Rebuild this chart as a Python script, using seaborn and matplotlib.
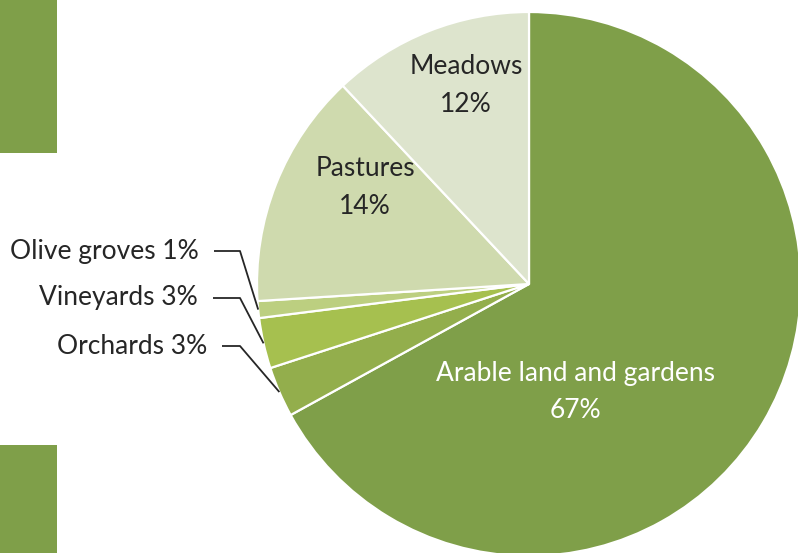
import numpy as np
import matplotlib
matplotlib.use("Agg")
import matplotlib.pyplot as plt
from matplotlib.patches import Rectangle
import seaborn as sns

# Land use shares (clockwise from 12 o'clock)
categories = ["Arable land and gardens", "Orchards", "Vineyards", "Olive groves", "Pastures", "Meadows"]
shares = [67, 3, 3, 1, 14, 12]
slice_colors = ["#7f9f49", "#93ae4c", "#a6c04f", "#bccf80", "#cfdaae", "#dde4cd"]

sns.set_theme(style="white")
plt.rcParams["font.family"] = ["Lato", "DejaVu Sans"]
palette = sns.color_palette(slice_colors)

W, H = 798, 553
fig = plt.figure(figsize=(W / 100, H / 100), dpi=100)
ax = fig.add_axes([0, 0, 1, 1])

cx, cy, r = 529, H - 284, 272
wedges, _ = ax.pie(
    shares, colors=palette, startangle=90, counterclock=False,
    radius=r, center=(cx, cy),
    wedgeprops=dict(edgecolor="white", linewidth=1.6),
)

# Decorative side blocks
for y0, y1 in [(0, 153), (445, 553)]:
    ax.add_patch(Rectangle((0, H - y1), 57, y1 - y0, color="#7f9f49", lw=0, zorder=0))

fs = 19
dark = "#262626"

# Inside labels: (x, y of first line) in pixel space
inside = {
    "Arable land and gardens": (575, 373, "white"),
    "Pastures": (365, 169, dark),
    "Meadows": (466, 67, dark),
}
for name, (x, y, col) in inside.items():
    v = shares[categories.index(name)]
    ax.text(x, H - y, name, ha="center", va="center", fontsize=fs, color=col)
    ax.text(x, H - y - 37, f"{v}%", ha="center", va="center", fontsize=fs, color=col)

# Outside labels with leader lines
outside = {
    "Olive groves": (199, 251),
    "Vineyards": (198, 298),
    "Orchards": (207, 346),
}
for name, (xr, y) in outside.items():
    i = categories.index(name)
    w = wedges[i]
    mid = np.deg2rad((w.theta1 + w.theta2) / 2)
    ex, ey = cx + r * np.cos(mid), cy + r * np.sin(mid)
    ax.text(xr, H - y, f"{name} {shares[i]}%", ha="right", va="center",
            fontsize=fs, color=dark)
    ax.plot([xr + 15, 240, ex], [H - y, H - y, ey], color=dark, lw=1.3,
            solid_capstyle="butt")

ax.set_xlim(0, W)
ax.set_ylim(0, H)
ax.set_aspect("equal")
ax.axis("off")

fig.savefig("out.png", dpi=100)
